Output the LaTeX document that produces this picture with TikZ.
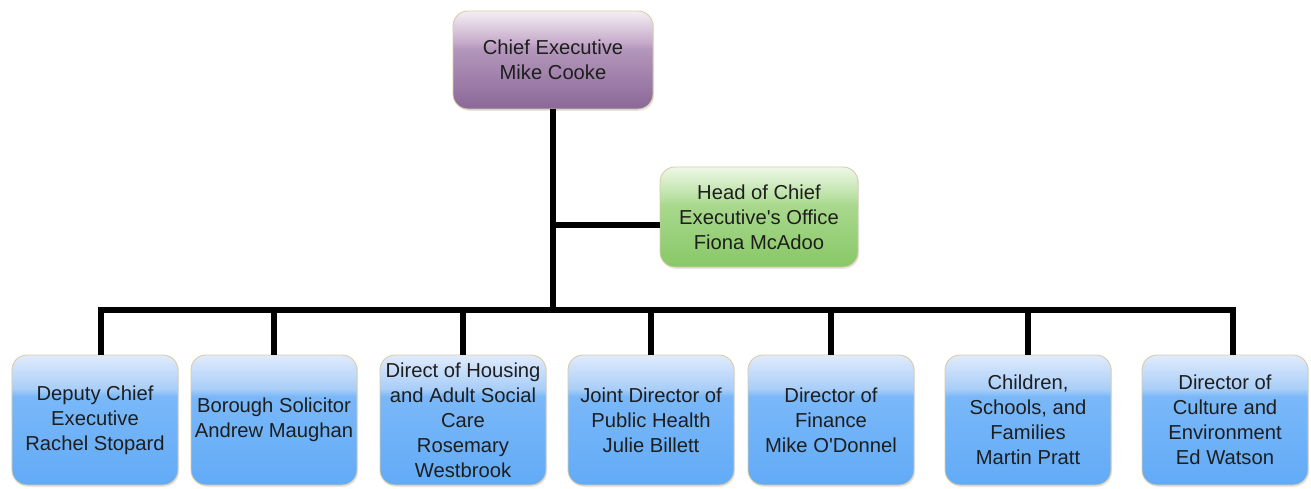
\documentclass[tikz,border=0pt]{standalone}
\usepackage{fontspec}
\setmainfont{Liberation Sans}
\usepackage{tikz}
\usetikzlibrary{positioning, calc, shadows}
\usepackage{xcolor}
\definecolor{chiefhi}{HTML}{F4EFF4}
\definecolor{chiefmid}{HTML}{C6ABCB}
\definecolor{chieflo}{HTML}{8A6898}
\definecolor{officehi}{HTML}{EEF8E8}
\definecolor{officemid}{HTML}{B6DF9E}
\definecolor{officelo}{HTML}{88C866}
\definecolor{depthi}{HTML}{E0EBFC}
\definecolor{deptmid}{HTML}{A9CEF8}
\definecolor{deptlo}{HTML}{62ABF7}
\definecolor{boxrim}{HTML}{D8CCA8}
\definecolor{inktext}{HTML}{1E1E1E}
\pgfdeclareverticalshading{chiefshade}{100bp}{color(0bp)=(chieflo); color(25bp)=(chieflo); color(56bp)=(chiefmid!70!chieflo); color(59bp)=(chiefmid); color(75bp)=(chiefhi); color(100bp)=(chiefhi)}
\pgfdeclareverticalshading{officeshade}{100bp}{color(0bp)=(officelo); color(25bp)=(officelo); color(56bp)=(officemid!70!officelo); color(59bp)=(officemid); color(75bp)=(officehi); color(100bp)=(officehi)}
\pgfdeclareverticalshading{deptshade}{100bp}{color(0bp)=(deptlo); color(25bp)=(deptlo); color(59bp)=(deptlo!85!white); color(62bp)=(deptmid); color(75bp)=(depthi); color(100bp)=(depthi)}

\begin{document}
\begin{tikzpicture}[
    every node/.style={font=\fontsize{11.5}{14.2}\selectfont, text=inktext},
    card/.style={draw=boxrim, rounded corners=8.5pt, align=center, inner sep=1pt, line width=0.5pt,
      drop shadow={opacity=0.2, shadow xshift=0.6pt, shadow yshift=-1pt}},
    chief/.style={card, shading=chiefshade, minimum width=4cm, minimum height=1.96cm},
    office/.style={card, shading=officeshade, minimum width=3.96cm, minimum height=2cm},
    dept/.style={card, shading=deptshade, minimum width=3.32cm, minimum height=2.6cm},
    link/.style={draw=black, line width=0.12cm}
]
    \useasboundingbox (0,0) rectangle (26.22,-9.76);

    % Top of the tree
    \node[chief] (ceo) at (11.06,-1.2) {Chief Executive\\Mike Cooke};
    \node[office] (office) at (15.18,-4.34) {Head of Chief\\Executive\textquotesingle s Office\\Fiona McAdoo};

    % Directors
    \node[dept] (d1) at (1.9,-8.4) {Deputy Chief\\Executive\\Rachel Stopard};
    \node[dept] (d2) at (5.48,-8.4) {Borough Solicitor\\Andrew Maughan};
    \node[dept] (d3) at (9.26,-8.4) {Direct of Housing\\and Adult Social\\Care\\Rosemary\\Westbrook};
    \node[dept] (d4) at (13.02,-8.4) {Joint Director of\\Public Health\\Julie Billett};
    \node[dept] (d5) at (16.62,-8.4) {Director of\\Finance\\Mike O\textquotesingle Donnel};
    \node[dept] (d6) at (20.56,-8.4) {Children,\\Schools, and\\Families\\Martin Pratt};
    \node[dept] (d7) at (24.5,-8.4) {Director of\\Culture and\\Environment\\Ed Watson};

    % Lines
    \coordinate (bus) at (11.06,-6.2);
    \coordinate (tap) at ([yshift=-0.16cm]office.west);
    \coordinate (left) at ([xshift=0.12cm]d1.north);
    \coordinate (right) at ([xshift=0.16cm]d7.north);
    \draw[link] (ceo.south) -- (ceo.south |- bus);
    \draw[link] (tap) -- (tap -| ceo.south);
    \draw[link] (left) |- (bus) -| (right);
    \foreach \d in {d2,d3,d4,d5,d6}
      \draw[link] (\d.north) -- (\d.north |- bus);
\end{tikzpicture}
\end{document}
